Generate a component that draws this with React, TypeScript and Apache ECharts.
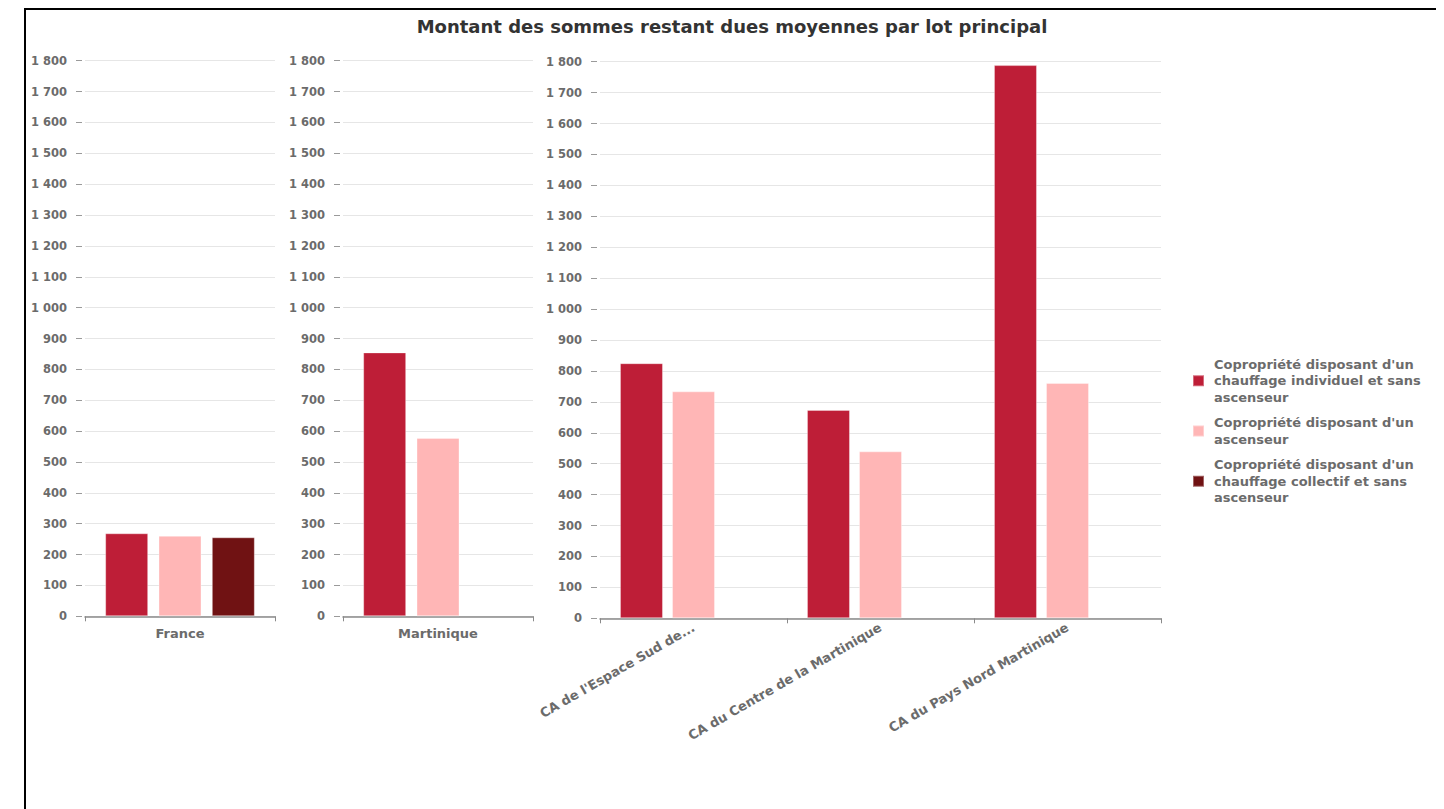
import React, { useEffect, useRef } from "react";
import * as echarts from "echarts";

const titleText = "Montant des sommes restant dues moyennes par lot principal";
const territories = [
  "France",
  "Martinique",
  "CA de l'Espace Sud de...",
  "CA du Centre de la Martinique",
  "CA du Pays Nord Martinique",
];
const seriesNames = [
  "Copropriété disposant d'un chauffage individuel et sans ascenseur",
  "Copropriété disposant d'un ascenseur",
  "Copropriété disposant d'un chauffage collectif et sans ascenseur",
];
const legendLabels = [
  "Copropriété disposant d'un\nchauffage individuel et sans\nascenseur",
  "Copropriété disposant d'un\nascenseur",
  "Copropriété disposant d'un\nchauffage collectif et sans\nascenseur",
];
const valuesIndividuel = [269, 855, 825, 674, 1789];
const valuesAscenseur = [261, 578, 734, 540, 761];
const valuesCollectif: (number | null)[] = [256, null, null, null, null];
const seriesColors = ["#BE1E37", "#FFB6B6", "#701213"];
const yTicks = { min: 0, max: 1800, interval: 100 };

const FONT = "DejaVu Sans, Liberation Sans, Arial, sans-serif";
const GRAY = "#6b6b6b";

export default function App() {
  const ref = useRef<HTMLDivElement>(null);
  useEffect(() => {
    if (!ref.current) return;
    const chart = echarts.init(ref.current, null, { renderer: "svg" });
    const panels = [
      { idx: [0], left: 77, width: 190, top: 52.7, height: 555.6, barWidth: 43, barGap: "24%", rotate: 0 },
      { idx: [1], left: 335, width: 190, top: 52.7, height: 555.6, barWidth: 43, barGap: "24%", rotate: 0 },
      { idx: [2, 3, 4], left: 592, width: 561, top: 53.7, height: 556.6, barWidth: 43, barGap: "21%", rotate: 30 },
    ];
    const allValues = [valuesIndividuel, valuesAscenseur, valuesCollectif];
    const fmt = (v: number) => String(v).replace(/\B(?=(\d{3})+(?!\d))/g, " ");

    const grid = panels.map((p) => ({ left: p.left, top: p.top, width: p.width, height: p.height }));
    const xAxis = panels.map((p, i) => ({
      type: "category",
      gridIndex: i,
      data: p.idx.map((k) => territories[k]),
      axisLine: { show: true, lineStyle: { color: "#8a8a8a", width: 1.5 } },
      axisTick: { show: true, length: 5, lineStyle: { color: "#8a8a8a" } },
      axisLabel: {
        color: GRAY,
        fontWeight: "bold",
        fontSize: 13,
        fontFamily: FONT,
        margin: p.rotate ? 8 : 11,
        rotate: p.rotate,
        interval: 0,
      },
      splitLine: { show: false },
    }));
    const yAxis = panels.map((p, i) => ({
      type: "value",
      gridIndex: i,
      min: yTicks.min,
      max: yTicks.max,
      interval: yTicks.interval,
      offset: 3,
      axisLine: { show: false },
      axisTick: { show: true, length: 6, lineStyle: { color: "#9a9a9a" } },
      axisLabel: {
        color: GRAY,
        fontWeight: "bold",
        fontSize: 11.5,
        fontFamily: FONT,
        margin: 15,
        formatter: fmt,
      },
      splitLine: { show: true, lineStyle: { color: "#e6e6e6", width: 1 } },
    }));
    const series: any[] = [];
    panels.forEach((p, gi) => {
      seriesNames.forEach((name, si) => {
        series.push({
          type: "bar",
          name,
          xAxisIndex: gi,
          yAxisIndex: gi,
          data: p.idx.map((k) => allValues[si][k]),
          barWidth: p.barWidth,
          barGap: p.barGap,
          itemStyle: {
            color: seriesColors[si],
            borderColor: "rgba(255,255,255,0.35)",
            borderWidth: 1,
          },
        });
      });
    });

    chart.setOption({
      animation: false,
      backgroundColor: "#ffffff",
      title: {
        text: titleText,
        left: 724,
        top: 9,
        padding: 0,
        textAlign: "center",
        textStyle: { fontFamily: FONT, fontSize: 18, fontWeight: "bold", color: "#333333" },
      },
      legend: {
        orient: "vertical",
        left: 1184,
        top: 348,
        padding: 0,
        itemGap: 9,
        itemWidth: 11,
        itemHeight: 11,
        icon: "rect",
        data: seriesNames,
        formatter: (name: string) => legendLabels[seriesNames.indexOf(name)],
        textStyle: {
          fontFamily: FONT,
          fontSize: 13,
          fontWeight: "bold",
          color: GRAY,
          lineHeight: 16.5,
          padding: [0, 0, 0, 5],
        },
      },
      grid,
      xAxis,
      yAxis,
      series,
      graphic: [
        {
          type: "rect",
          silent: true,
          shape: { x: 17, y: 1, width: 1412, height: 900 },
          style: { fill: "none", stroke: "#000000", lineWidth: 2 },
        },
      ],
    });
    return () => chart.dispose();
  }, []);
  return <div ref={ref} style={{ width: 1428, height: 801 }} />;
}
